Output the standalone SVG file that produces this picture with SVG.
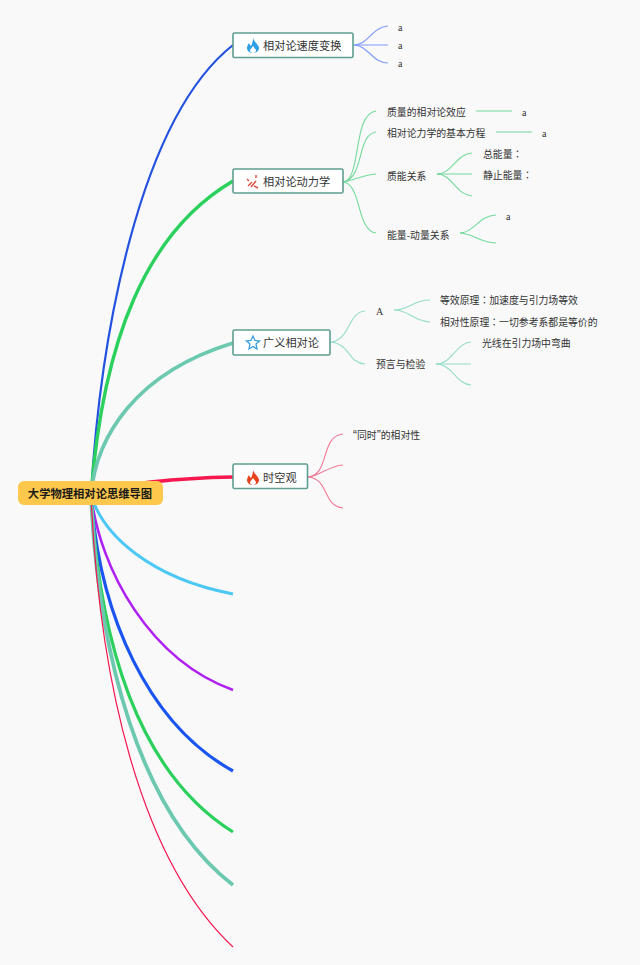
<svg xmlns="http://www.w3.org/2000/svg" width="640" height="965" viewBox="0 0 640 965">
<style>
.c{font-family:"Noto Sans CJK SC","Liberation Sans",sans-serif;fill:#333;font-size:9.85px}
.t{font-size:11.2px}
.k{font-family:"Noto Sans CJK TC",sans-serif}
.q{font-family:"Liberation Sans",sans-serif;font-size:12px}
.s{font-family:"Liberation Serif",serif;font-size:10px;fill:#333}
.box{fill:#fff;stroke:#5f9e8f;stroke-width:1.6}
path{fill:none}
.b{stroke:#7f9cf5;stroke-width:1.2}
.g{stroke:#74da9c;stroke-width:1.1}
.m{stroke:#96dcc8;stroke-width:1.1}
.r{stroke:#f07a96;stroke-width:1.1}
</style>
<rect width="640" height="965" fill="#f9f9fa"/>
<g id="connectors">
<path d="M91 495C100 340 138 120 233 45" stroke="#2352e0" stroke-width="2.2"/>
<path d="M91 495C103 340 146 232 233 181" stroke="#2bd15c" stroke-width="3.4"/>
<path d="M91 495C96 437 135 373 233 343" stroke="#6cc9b0" stroke-width="3.6"/>
<path d="M91 495C120 483 180 478 233 477" stroke="#f5174e" stroke-width="3.6"/>
<path d="M91 495C103 535 150 578 233 594" stroke="#4cc8f5" stroke-width="3"/>
<path d="M91 495C100 570 150 660 233 690" stroke="#b020f0" stroke-width="2.6"/>
<path d="M91 495C99 615 148 724 233 771" stroke="#1a55f0" stroke-width="3.2"/>
<path d="M91 495C99 640 137 772 233 832" stroke="#2bd15c" stroke-width="3.2"/>
<path d="M91 495C98 650 138 812 233 885" stroke="#6cc9b0" stroke-width="3.8"/>
<path d="M91 495C99 680 140 860 233 947" stroke="#f5174e" stroke-width="1.2"/>
<path class="b" d="M354 45C368 45 372 27 388 26"/>
<path class="b" d="M354 45H388"/>
<path class="b" d="M354 45C368 45 372 63 388 63"/>
<path class="g" d="M343 182C362 180 352 114 376 111"/>
<path class="g" d="M343 182C365 178 356 135 376 132"/>
<path class="g" d="M343 182C352 181 362 175 376 174"/>
<path class="g" d="M343 182C362 184 356 230 376 233"/>
<path class="g" d="M476 111H512"/>
<path class="g" d="M496 132H532"/>
<path class="g" d="M437 174C452 174 456 154 472 153"/>
<path class="g" d="M437 174H472"/>
<path class="g" d="M437 174C452 174 456 195 472 196"/>
<path class="g" d="M460 233C475 232 478 216 496 215"/>
<path class="g" d="M460 233C475 234 478 242 496 243"/>
<path class="m" d="M331 342C350 340 348 312 365 311"/>
<path class="m" d="M331 342C350 344 348 363 365 364"/>
<path class="m" d="M394 310C410 310 412 300 430 300"/>
<path class="m" d="M394 310C410 310 412 321 430 322"/>
<path class="m" d="M436 364C452 364 456 343 471 342"/>
<path class="m" d="M436 364H471"/>
<path class="m" d="M436 364C452 364 456 384 471 385"/>
<path class="r" d="M308 477C330 475 320 436 343 434"/>
<path class="r" d="M308 477C320 476 328 466 343 465"/>
<path class="r" d="M308 477C330 479 322 506 343 508"/>
</g>
<g id="root"><rect x="18" y="481" width="145" height="24" rx="6" fill="#fdc84b"/><text x="90" y="498" text-anchor="middle" class="c" style="font-size:11.3px;font-weight:700;fill:#1a1a1a">大学物理相对论思维导图</text></g>
<g id="n1"><rect class="box" x="233" y="33" width="120" height="24.500" rx="1.500"/><path d="M253 38C254 42 259 45 259 48C259 51 256 53 253 53C250 53 247 51 247 48C247 46 248 45 249 43C250 45 250 45 251 46C252 44 253 41 253 38Z" style="fill:#2e9fe6"/><path d="M253 46C254 48 256 49 256 50.500C256 52 254.500 53 253 53C251.500 53 250 52 250 50.500C250 49 252 48 253 46Z" style="fill:#fff"/><text x="263" y="49.500" class="c t">相对论速度变换</text></g>
<g id="n2"><rect class="box" x="233" y="169" width="110" height="24" rx="1.500"/><path d="M248 186L252 182M251 187L256 181M247 179L249 181M254 186L258 188M256 175V178" style="stroke:#e5483c;stroke-width:1.4"/><text x="263" y="185.500" class="c t">相对论动力学</text></g>
<g id="n3"><rect class="box" x="233" y="330" width="97" height="25" rx="1.500"/><path d="M253 336L255 340.500L259.500 341L256 344L257 349L253 346.500L249 349L250 344L246.500 341L251 340.500Z" style="stroke:#3a9fe0;stroke-width:1.3"/><text x="263" y="346.500" class="c t">广义相对论</text></g>
<g id="n4"><rect class="box" x="233" y="464" width="74.500" height="24.500" rx="1.500"/><path d="M253 470C254 474 259 477 259 480C259 483 256 485 253 485C250 485 247 483 247 480C247 478 248 477 249 475C250 477 250 477 251 478C252 476 253 473 253 470Z" style="fill:#e8431f"/><path d="M253 478C254 480 256 481 256 482.500C256 484 254.500 485 253 485C251.500 485 250 484 250 482.500C250 481 252 480 253 478Z" style="fill:#fff"/><text x="263" y="481.500" class="c t">时空观</text></g>
<g id="labels">
<text x="398" y="31" class="s">a</text><text x="398" y="49" class="s">a</text><text x="398" y="67" class="s">a</text>
<text x="387" y="116" class="c">质量的相对论效应</text><text x="522" y="116" class="s">a</text>
<text x="387" y="137" class="c">相对论力学的基本方程</text><text x="542" y="137" class="s">a</text>
<text x="387" y="179.500" class="c">质能关系</text>
<text x="483" y="158" class="c">总能量<tspan class="k">：</tspan></text>
<text x="483" y="179" class="c">静止能量<tspan class="k">：</tspan></text>
<text x="387" y="238.500" class="c">能量-动量关系</text><text x="506" y="220" class="s">a</text>
<text x="376" y="315" class="s">A</text>
<text x="440" y="304" class="c">等效原理<tspan class="k">：</tspan>加速度与引力场等效</text>
<text x="440" y="326" class="c">相对性原理<tspan class="k">：</tspan>一切参考系都是等价的</text>
<text x="376" y="368" class="c">预言与检验</text>
<text x="482" y="347" class="c">光线在引力场中弯曲</text>
<text x="353" y="439" class="c"><tspan class="q">“</tspan>同时<tspan class="q">”</tspan>的相对性</text>
</g>
</svg>
